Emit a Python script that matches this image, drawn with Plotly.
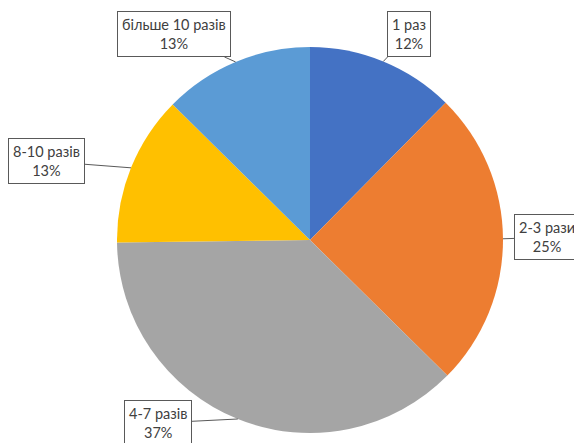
import math
import plotly.graph_objects as go

# Data
categories = ["1 раз", "2-3 рази", "4-7 разів", "8-10 разів", "більше 10 разів"]
values = [12.4, 25.0, 37.4, 12.6, 12.6]
colors = ["#4472C4", "#ED7D31", "#A5A5A5", "#FFC000", "#5B9BD5"]

# Layout / style (label box offsets in px from the slice edge point)
label_offsets = [(26, -27.5), (44, -1.5), (-79.5, 4), (-84.5, -6.5), (-61.5, -27.5)]

W, H = 574, 443
cx, cy, R = 310, 240, 193  # pixel centre & radius of pie

fig = go.Figure(go.Pie(
    labels=categories,
    values=values,
    marker=dict(colors=colors, line=dict(width=0)),
    sort=False,
    direction="clockwise",
    rotation=0,
    textinfo="none",
    hoverinfo="label+percent",
    showlegend=False,
    domain=dict(x=[(cx - R) / W, (cx + R) / W],
                y=[(H - cy - R) / H, (H - cy + R) / H]),
))

total = sum(values)
annotations = []
cum = 0
for cat, v, (ox, oy) in zip(categories, values, label_offsets):
    mid = (cum + v / 2) / total * 2 * math.pi
    cum += v
    px = cx + R * math.sin(mid)
    py = cy - R * math.cos(mid)
    pct = round(v / total * 100)
    annotations.append(dict(
        x=px / W, y=1 - py / H, xref="paper", yref="paper",
        text=f"{cat}<br>{pct}%",
        showarrow=True, arrowhead=0, arrowwidth=1, arrowcolor="#595959",
        ax=ox, ay=oy, axref="pixel", ayref="pixel", standoff=0,
        bordercolor="#595959", borderwidth=1, borderpad=4, bgcolor="white",
        font=dict(family="Lato, Noto Sans, sans-serif", size=14.5, color="#404040"),
        align="center",
    ))

fig.update_layout(
    width=W, height=H,
    margin=dict(l=0, r=0, t=0, b=0),
    paper_bgcolor="white", plot_bgcolor="white",
    annotations=annotations,
)

fig.write_html("out.html")
